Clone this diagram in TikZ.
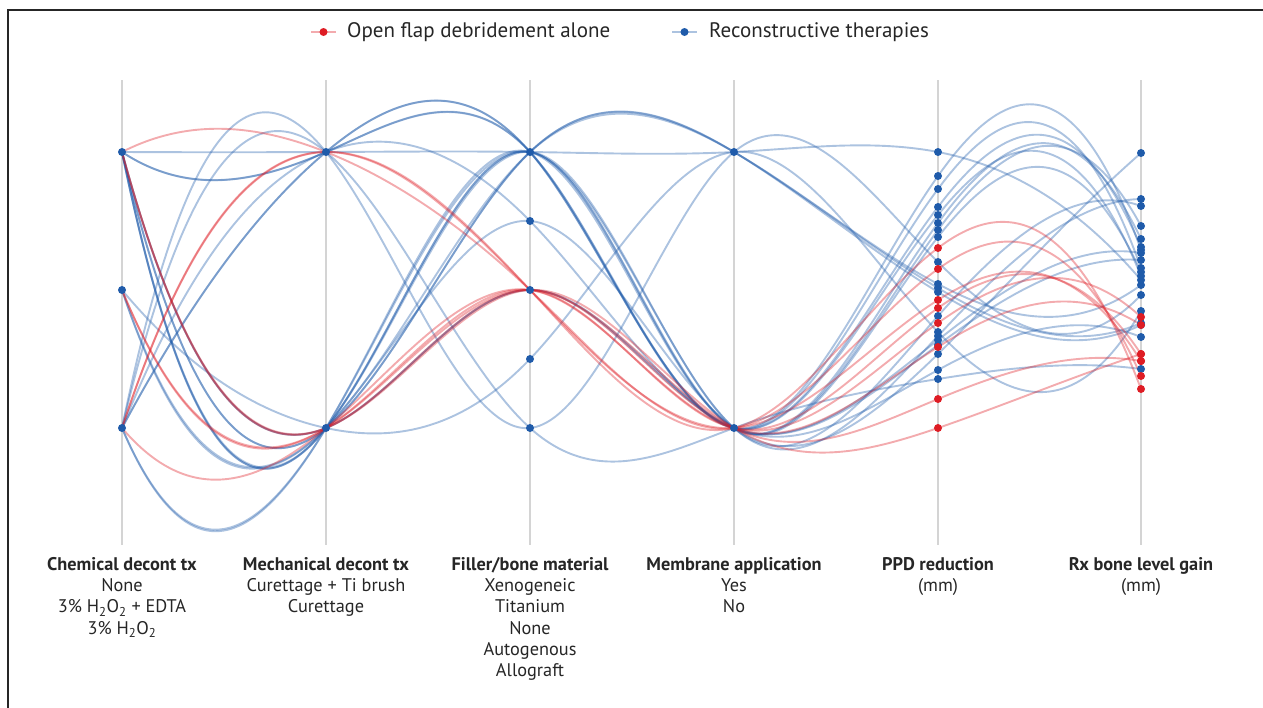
\documentclass[tikz,border=0pt]{standalone}
\usepackage{fontspec}
\setmainfont{PT Sans}
\usepackage{etoolbox}
\definecolor{cblue}{RGB}{31,91,170}
\definecolor{cred}{RGB}{222,28,36}
\definecolor{axisg}{RGB}{212,212,212}
\newcommand\dotlist{}
% FMM cubic spline through the six axis values of one case
\newcommand\pcl[8]{%
  \pgfmathsetmacro\RA{6*((#3)-2*(#4)+(#5))}%
  \pgfmathsetmacro\RB{6*((#4)-2*(#5)+(#6))}%
  \pgfmathsetmacro\RC{6*((#5)-2*(#6)+(#7))}%
  \pgfmathsetmacro\RD{6*((#6)-2*(#7)+(#8))}%
  \pgfmathsetmacro\DL{(#6)-3*(#5)+3*(#4)-(#3)}%
  \pgfmathsetmacro\DR{(#8)-3*(#7)+3*(#6)-(#5)}%
  \pgfmathsetmacro\dA{(\RA+\DL)/5}%
  \pgfmathsetmacro\dB{(\RB-\dA)/3.8}%
  \pgfmathsetmacro\dC{(\RC-\dB)/3.736842}%
  \pgfmathsetmacro\MD{(\RD-\DR-\dC)/4.732394}%
  \pgfmathsetmacro\MC{\dC-0.267606*\MD}%
  \pgfmathsetmacro\MB{\dB-0.263158*\MC}%
  \pgfmathsetmacro\MA{\dA-0.2*\MB}%
  \pgfmathsetmacro\MZ{\MA-\DL}%
  \pgfmathsetmacro\ME{\MD+\DR}%
  \pgfmathsetmacro\aA{(#3)+(((#4)-(#3))-(2*\MZ+\MA)/6)/3}%
  \pgfmathsetmacro\bA{(#4)-(((#4)-(#3))+(\MZ+2*\MA)/6)/3}%
  \pgfmathsetmacro\aB{(#4)+(((#5)-(#4))-(2*\MA+\MB)/6)/3}%
  \pgfmathsetmacro\bB{(#5)-(((#5)-(#4))+(\MA+2*\MB)/6)/3}%
  \pgfmathsetmacro\aC{(#5)+(((#6)-(#5))-(2*\MB+\MC)/6)/3}%
  \pgfmathsetmacro\bC{(#6)-(((#6)-(#5))+(\MB+2*\MC)/6)/3}%
  \pgfmathsetmacro\aD{(#6)+(((#7)-(#6))-(2*\MC+\MD)/6)/3}%
  \pgfmathsetmacro\bD{(#7)-(((#7)-(#6))+(\MC+2*\MD)/6)/3}%
  \pgfmathsetmacro\aE{(#7)+(((#8)-(#7))-(2*\MD+\ME)/6)/3}%
  \pgfmathsetmacro\bE{(#8)-(((#8)-(#7))+(\MD+2*\ME)/6)/3}%
  \draw[#1] (122,#3) .. controls (190,\aA) and (258,\bA) .. (326,#4)
     .. controls (394,\aB) and (462,\bB) .. (530,#5)
     .. controls (598,\aC) and (666,\bC) .. (734,#6)
     .. controls (802,\aD) and (870,\bD) .. (938,#7)
     .. controls (1005,\aE) and (1073,\bE) .. (1141,#8);
  \gappto\dotlist{\fill[#2] (938,#7) circle (4) (1141,#8) circle (4);}%
}
\begin{document}
\begin{tikzpicture}[x=1pt,y=-1pt,
  bl/.style={cblue,draw opacity=0.37,line width=1.9pt},
  rl/.style={cred,draw opacity=0.37,line width=1.9pt},
  axisline/.style={axisg,line width=2pt},
  catdot/.style={fill=cblue},
  lab/.style={anchor=north,align=center,inner sep=0pt,font=\fontsize{18.3}{21.3}\selectfont,text=black!85},
  legtext/.style={anchor=west,inner sep=0pt,font=\fontsize{21}{24}\selectfont,text=black!85},
  frame/.style={draw=black!85,line width=1.5pt}]
\useasboundingbox (0,0) rectangle (1263,707);
\draw[frame] (8,720) -- (8,10) -- (1280,10);
% axes
\foreach \x in {122,326,530,734,938,1141}
  \draw[axisline] (\x,80) -- (\x,545);
% reconstructive therapies
\pcl{bl}{cblue}{152}{152}{152}{152}{152}{280}
\pcl{bl}{cblue}{152}{152}{152}{428}{176}{250}
\pcl{bl}{cblue}{152}{152}{152}{428}{189}{268}
\pcl{bl}{cblue}{428}{152}{152}{428}{207}{247}
\pcl{bl}{cblue}{428}{152}{152}{428}{215}{276}
\pcl{bl}{cblue}{428}{152}{428}{152}{262}{295}
\pcl{bl}{cblue}{428}{152}{428}{428}{379}{369}
\pcl{bl}{cblue}{290}{428}{359}{152}{332}{311}
\pcl{bl}{cblue}{152}{428}{152}{428}{223}{239}
\pcl{bl}{cblue}{428}{428}{152}{428}{230}{226}
\pcl{bl}{cblue}{152}{428}{152}{428}{237}{272}
\pcl{bl}{cblue}{152}{428}{152}{428}{316}{206}
\pcl{bl}{cblue}{428}{428}{152}{428}{336}{199}
\pcl{bl}{cblue}{290}{428}{152}{152}{284}{285}
\pcl{bl}{cblue}{428}{152}{221}{428}{340}{253}
\pcl{bl}{cblue}{290}{428}{221}{428}{354}{153}
\pcl{bl}{cblue}{152}{428}{290}{428}{345}{260}
\pcl{bl}{cblue}{152}{428}{290}{428}{370}{337}
\pcl{bl}{cblue}{152}{428}{152}{152}{288}{323}
\pcl{bl}{cblue}{152}{428}{152}{152}{292}{325}
% open flap debridement alone
\pcl{rl}{cred}{152}{152}{290}{428}{269}{376}
\pcl{rl}{cred}{428}{152}{290}{428}{248}{389}
\pcl{rl}{cred}{428}{152}{290}{428}{300}{361}
\pcl{rl}{cred}{290}{428}{290}{428}{308}{354}
\pcl{rl}{cred}{428}{428}{290}{428}{323}{317}
\pcl{rl}{cred}{152}{428}{290}{428}{347}{325}
\pcl{rl}{cred}{290}{428}{290}{428}{399}{361}
\pcl{rl}{cred}{152}{428}{290}{428}{428}{354}
% category dots
\foreach \x/\y in {122/152,122/290,122/428,326/152,326/428,530/152,530/221,530/290,530/359,530/428,734/152,734/428}
  \fill[catdot] (\x,\y) circle (4);
\dotlist
% axis labels
\node[lab] (chem) at (122,557) {\textbf{Chemical decont tx}\\None\\3\% H\textsubscript{2}O\textsubscript{2} + EDTA\\3\% H\textsubscript{2}O\textsubscript{2}};
\node[lab] (mech) at (326,557) {\textbf{Mechanical decont tx}\\Curettage + Ti brush\\Curettage};
\node[lab] (fill) at (530,557) {\textbf{Filler/bone material}\\Xenogeneic\\Titanium\\None\\Autogenous\\Allograft};
\node[lab] (memb) at (734,557) {\textbf{Membrane application}\\Yes\\No};
\node[lab] (ppd) at (938,557) {\textbf{PPD reduction}\\(mm)};
\node[lab] (rx) at (1141,557) {\textbf{Rx bone level gain}\\(mm)};
% legend
\draw[cred,draw opacity=0.37,line width=2pt] (311,32) -- (336,32);
\fill[cred] (323.5,32) circle (4);
\node[legtext] (lr) at (347,32) {Open flap debridement alone};
\draw[cblue,draw opacity=0.37,line width=2pt] (672,32) -- (697,32);
\fill[cblue] (684.5,32) circle (4);
\node[legtext] (lb) at (709,32) {Reconstructive therapies};
\end{tikzpicture}
\end{document}
